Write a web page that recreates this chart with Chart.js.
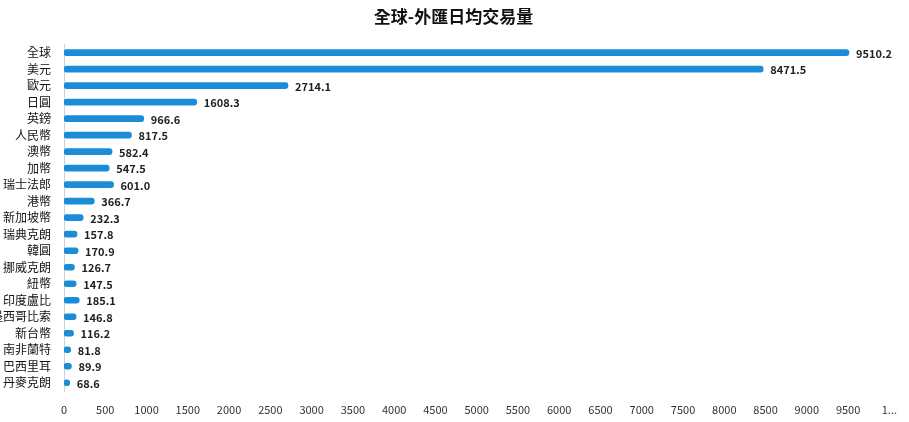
<!DOCTYPE html>
<html>
<head>
<meta charset="utf-8">
<script src="https://cdn.jsdelivr.net/npm/chart.js@4/dist/chart.umd.min.js"></script>
<style>
  html, body { margin: 0; padding: 0; background: #fff; }
  #wrap { width: 909px; height: 422px; }
</style>
</head>
<body>
<div id="wrap"><canvas id="chart"></canvas></div>
<script>
// currency names (top to bottom)
const currencies = ['全球', '美元', '歐元', '日圓', '英鎊', '人民幣', '澳幣', '加幣', '瑞士法郎', '港幣',
    '新加坡幣', '瑞典克朗', '韓圓', '挪威克朗', '紐幣', '印度盧比', '墨西哥比索', '新台幣', '南非蘭特', '巴西里耳', '丹麥克朗'];
// daily turnover values
const turnover = [9510.2, 8471.5, 2714.1, 1608.3, 966.6, 817.5, 582.4, 547.5, 601.0, 366.7,
    232.3, 157.8, 170.9, 126.7, 147.5, 185.1, 146.8, 116.2, 81.8, 89.9, 68.6];

const FONT = '"Noto Sans CJK TC", "Noto Sans", sans-serif';

// draw the value next to each bar end
const valueLabels = {
    id: 'valueLabels',
    afterDatasetsDraw(chart) {
        const ctx = chart.ctx;
        const meta = chart.getDatasetMeta(0);
        ctx.save();
        ctx.font = 'bold 11px ' + FONT;
        ctx.fillStyle = '#222';
        ctx.textBaseline = 'middle';
        ctx.textAlign = 'left';
        meta.data.forEach((bar, i) => {
            ctx.fillText(turnover[i].toFixed(1), bar.x + 7, bar.y + 1);
        });
        ctx.restore();
    }
};

new Chart(document.getElementById('chart'), {
    type: 'bar',
    data: {
        labels: currencies,
        datasets: [{
            data: turnover,
            backgroundColor: '#1a8dd6',
            barThickness: 6,
            borderRadius: 3,
            borderSkipped: false
        }]
    },
    options: {
        indexAxis: 'y',
        responsive: true,
        maintainAspectRatio: false,
        animation: false,
        layout: { padding: { left: 0, right: 2, top: 6, bottom: 0 } },
        plugins: {
            legend: { display: false },
            tooltip: { enabled: false },
            title: {
                display: true,
                text: '全球-外匯日均交易量',
                color: '#111',
                font: { family: FONT, size: 17, weight: 'bold' },
                padding: { top: 0, bottom: 18 }
            }
        },
        scales: {
            x: {
                min: 0,
                max: 10000,
                afterFit(axis) { axis.height = 31; },
                grid: { display: false, drawTicks: false },
                border: { display: false },
                ticks: {
                    stepSize: 500,
                    maxRotation: 0,
                    autoSkip: false,
                    color: '#333',
                    padding: 12,
                    font: { family: FONT, size: 11 },
                    callback: v => v === 10000 ? '1...' : v
                }
            },
            y: {
                afterFit(axis) { axis.width = 64; },
                grid: { display: false, drawTicks: false },
                border: { display: true, color: '#d0d0d0', width: 1 },
                ticks: {
                    color: '#111',
                    padding: 13,
                    autoSkip: false,
                    font: { family: FONT, size: 12 }
                }
            }
        }
    },
    plugins: [valueLabels]
});
</script>
</body>
</html>
